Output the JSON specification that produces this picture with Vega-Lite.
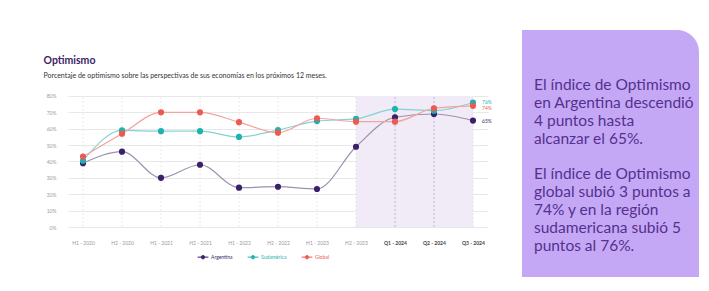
{
  "$schema": "https://vega.github.io/schema/vega-lite/v6.json",
  "background": "#ffffff",
  "padding": {"left": 43, "top": 30, "right": 9, "bottom": 14},
  "spacing": 30,
  "config": {"view": {"stroke": null}, "font": "Lato"},
  "resolve": {"scale": {"color": "independent"}, "legend": {"color": "independent"}},
  "datasets": {
    "d": [
      {"period": "H1 - 2020", "series": "Argentina", "value": 39},
      {"period": "H2 - 2020", "series": "Argentina", "value": 46},
      {"period": "H1 - 2021", "series": "Argentina", "value": 30},
      {"period": "H2 - 2021", "series": "Argentina", "value": 38},
      {"period": "H1 - 2022", "series": "Argentina", "value": 24},
      {"period": "H2 - 2022", "series": "Argentina", "value": 24.6},
      {"period": "H1 - 2023", "series": "Argentina", "value": 23.2},
      {"period": "H2 - 2023", "series": "Argentina", "value": 49},
      {"period": "Q1 - 2024", "series": "Argentina", "value": 67},
      {"period": "Q2 - 2024", "series": "Argentina", "value": 69},
      {"period": "Q3 - 2024", "series": "Argentina", "value": 65},
      {"period": "H1 - 2020", "series": "Sudamérica", "value": 40.5},
      {"period": "H2 - 2020", "series": "Sudamérica", "value": 59},
      {"period": "H1 - 2021", "series": "Sudamérica", "value": 58.5},
      {"period": "H2 - 2021", "series": "Sudamérica", "value": 58.5},
      {"period": "H1 - 2022", "series": "Sudamérica", "value": 55},
      {"period": "H2 - 2022", "series": "Sudamérica", "value": 59.2},
      {"period": "H1 - 2023", "series": "Sudamérica", "value": 64.7},
      {"period": "H2 - 2023", "series": "Sudamérica", "value": 66},
      {"period": "Q1 - 2024", "series": "Sudamérica", "value": 72},
      {"period": "Q2 - 2024", "series": "Sudamérica", "value": 71},
      {"period": "Q3 - 2024", "series": "Sudamérica", "value": 76},
      {"period": "H1 - 2020", "series": "Global", "value": 43},
      {"period": "H2 - 2020", "series": "Global", "value": 57},
      {"period": "H1 - 2021", "series": "Global", "value": 70},
      {"period": "H2 - 2021", "series": "Global", "value": 70},
      {"period": "H1 - 2022", "series": "Global", "value": 64},
      {"period": "H2 - 2022", "series": "Global", "value": 57.6},
      {"period": "H1 - 2023", "series": "Global", "value": 66.4},
      {"period": "H2 - 2023", "series": "Global", "value": 64.3},
      {"period": "Q1 - 2024", "series": "Global", "value": 64.3},
      {"period": "Q2 - 2024", "series": "Global", "value": 72.5},
      {"period": "Q3 - 2024", "series": "Global", "value": 74}
    ],
    "periods": [
      {"period": "H1 - 2020"}, {"period": "H2 - 2020"}, {"period": "H1 - 2021"}, {"period": "H2 - 2021"},
      {"period": "H1 - 2022"}, {"period": "H2 - 2022"}, {"period": "H1 - 2023"}, {"period": "H2 - 2023"},
      {"period": "Q1 - 2024"}, {"period": "Q2 - 2024"}, {"period": "Q3 - 2024"}
    ],
    "ends": [
      {"period": "Q3 - 2024", "series": "Sudamérica", "value": 76.5, "label": "76%"},
      {"period": "Q3 - 2024", "series": "Global", "value": 72.5, "label": "74%"},
      {"period": "Q3 - 2024", "series": "Argentina", "value": 65, "label": "65%"}
    ],
    "lines": [
      {"line": 0, "text": "El índice de Optimismo"},
      {"line": 1, "text": "en Argentina descendió"},
      {"line": 2, "text": "4 puntos hasta"},
      {"line": 3, "text": "alcanzar el 65%."},
      {"line": 5, "text": "El índice de Optimismo"},
      {"line": 6, "text": "global subió 3 puntos a"},
      {"line": 7, "text": "74% y en la región"},
      {"line": 8, "text": "sudamericana subió 5"},
      {"line": 9, "text": "puntos al 76%."}
    ]
  },
  "hconcat": [
    {
      "width": 420,
      "height": 197,
      "resolve": {"axis": {"x": "independent", "y": "independent"}},
      "layer": [
        {
          "data": {"values": [{"start": "H2 - 2023", "end": "Q3 - 2024", "lo": 0, "hi": 80}]},
          "mark": {"type": "rect", "color": "#f0ebf7"},
          "encoding": {
            "x": {
              "field": "start", "type": "ordinal",
              "scale": {"type": "point", "padding": 0.385, "domain": ["H1 - 2020","H2 - 2020","H1 - 2021","H2 - 2021","H1 - 2022","H2 - 2022","H1 - 2023","H2 - 2023","Q1 - 2024","Q2 - 2024","Q3 - 2024"]},
              "axis": {
                "title": null, "labelAngle": 0, "labelFontSize": 5, "labelPadding": 13,
                "labelColor": {"condition": {"test": "indexof(datum.label,'Q')===0", "value": "#444444"}, "value": "#9a9a9a"},
                "labelFontWeight": {"condition": {"test": "indexof(datum.label,'Q')===0", "value": "bold"}, "value": "normal"},
                "ticks": false, "domain": false, "grid": false
              }
            },
            "x2": {"field": "end"},
            "y": {
              "field": "lo", "type": "quantitative",
              "scale": {"domain": [0, 120.3], "nice": false},
              "axis": {
                "title": "Optimismo",
                "titleAngle": 0, "titleAlign": "left", "titleBaseline": "top",
                "titleX": -25, "titleY": 25,
                "titleFont": "Lato", "titleFontSize": 10.5, "titleFontWeight": "bold", "titleColor": "#3b2366",
                "values": [0,10,20,30,40,50,60,70,80], "labelOverlap": false,
                "labelExpr": "datum.value + '%'", "labelFontSize": 5, "labelColor": "#9a9a9a",
                "labelPadding": 12, "ticks": false, "domain": false, "grid": true, "gridColor": "#e8e8e8"
              }
            },
            "y2": {"field": "hi"}
          }
        },
        {
          "data": {"name": "periods"},
          "mark": {"type": "rule", "strokeDash": [2, 2], "strokeWidth": 0.8},
          "encoding": {
            "x": {
              "field": "period", "type": "ordinal",
              "axis": {
                "orient": "top", "labels": false, "ticks": false, "domain": false, "grid": false,
                "title": "Porcentaje de optimismo sobre las perspectivas de sus economías en los próximos 12 meses.",
                "titleAngle": 0, "titleAlign": "left", "titleBaseline": "top", "titleX": -25, "titleY": 41,
                "titleFont": "Lato", "titleFontSize": 7, "titleFontWeight": "normal", "titleColor": "#333333"
              }
            },
            "y": {"datum": 0, "type": "quantitative", "axis": null},
            "y2": {"datum": 80},
            "stroke": {"condition": {"test": "datum.period === 'Q1 - 2024' || datum.period === 'Q2 - 2024'", "value": "#b4abc6"}, "value": "#e2e2e2"}
          }
        },
        {
          "data": {"name": "d"},
          "mark": {"type": "line", "interpolate": "monotone", "strokeWidth": 1.2},
          "encoding": {
            "x": {"field": "period", "type": "ordinal", "axis": null},
            "y": {"field": "value", "type": "quantitative", "axis": null},
            "stroke": {
              "field": "series", "type": "nominal",
              "scale": {"domain": ["Argentina", "Sudamérica", "Global"], "range": ["#9b93ad", "#86d2d0", "#f2a49d"]},
              "legend": null
            }
          }
        },
        {
          "data": {"name": "d"},
          "mark": {"type": "circle", "size": 38, "opacity": 1},
          "encoding": {
            "x": {"field": "period", "type": "ordinal", "axis": null},
            "y": {"field": "value", "type": "quantitative", "axis": null},
            "color": {
              "field": "series", "type": "nominal",
              "scale": {"domain": ["Argentina", "Sudamérica", "Global"], "range": ["#3a1f6b", "#1fb3b0", "#ec5a51"]},
              "legend": {
                "title": null, "orient": "none", "direction": "horizontal",
                "legendX": 131, "legendY": 223,
                "labelFontSize": 5, "labelOffset": 4,
                "symbolType": "M-1.7,0H-0.55M0.55,0H1.7M-0.55,0A0.55,0.55 0 1,1 0.55,0A0.55,0.55 0 1,1 -0.55,0Z",
                "symbolSize": 40, "symbolOpacity": 1, "symbolStrokeWidth": 1,
                "symbolStrokeColor": {"expr": "datum.value === 'Argentina' ? '#3a1f6b' : datum.value === 'Global' ? '#ec5a51' : '#1fb3b0'"},
                "columnPadding": 12,
                "labelColor": {"expr": "datum.value === 'Argentina' ? '#3a1f6b' : datum.value === 'Global' ? '#ec5a51' : '#1fb3b0'"}
              }
            }
          }
        },
        {
          "data": {"name": "ends"},
          "mark": {"type": "text", "align": "left", "baseline": "middle", "dx": 9, "fontSize": 5},
          "encoding": {
            "x": {"field": "period", "type": "ordinal", "axis": null},
            "y": {"field": "value", "type": "quantitative", "axis": null},
            "text": {"field": "label"},
            "color": {"field": "series", "type": "nominal"}
          }
        }
      ]
    },
    {
      "width": 177,
      "height": 247,
      "layer": [
        {
          "data": {"values": [{"panel": 1}]},
          "mark": {"type": "rect", "color": "#c4a8f5", "cornerRadiusTopRight": 22},
          "encoding": {"x": {"value": 0}, "x2": {"value": "width"}, "y": {"value": 0}, "y2": {"value": "height"}}
        },
        {
          "data": {"name": "lines"},
          "mark": {"type": "text", "align": "left", "baseline": "middle", "fontSize": 15.5, "font": "Lato", "color": "#56308f"},
          "encoding": {
            "x": {"value": 12},
            "y": {"field": "line", "type": "quantitative", "scale": {"domain": [-3.07, 10.73], "reverse": true, "nice": false, "zero": false}, "axis": null},
            "text": {"field": "text"}
          }
        }
      ]
    }
  ]
}
